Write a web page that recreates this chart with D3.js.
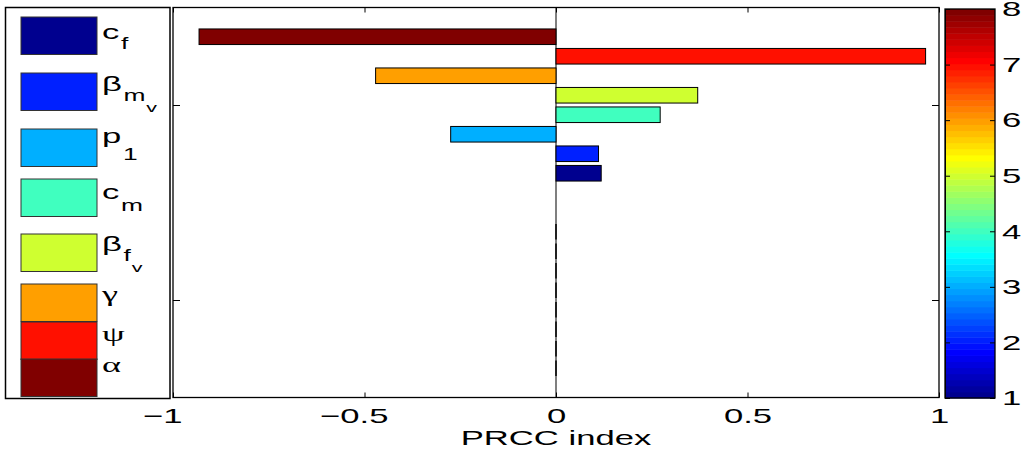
<!DOCTYPE html>
<html>
<head>
<meta charset="utf-8">
<script src="https://cdn.jsdelivr.net/npm/d3@7"></script>
<style>
  body { margin: 0; background: #fff; }
  text { font-family: "Liberation Sans", Arial, sans-serif; fill: #000; }
</style>
</head>
<body>
<svg id="chart" width="1024" height="455"></svg>
<script>
// parameters, legend order (top to bottom)
const symBase = ["c", "β", "p", "c", "β", "γ", "ψ", "α"];
const symSub = ["f", "m", "1", "m", "f", "", "", ""];
const symSubSub = ["", "v", "", "", "v", "", "", ""];
const rank = [1, 2, 3, 4, 5, 6, 7, 8]; // colour value on the colorbar
const prcc = [0.118, 0.111, -0.275, 0.272, 0.37, -0.471, 0.965, -0.932];
const barPos = [11.5, 12.5, 13.5, 14.5, 15.5, 16.5, 17.5, 18.5];

// empty rows (zero bars) below the parameters
const zeroPos = [1.5, 2.5, 3.5, 4.5, 5.5, 6.5, 7.5, 8.5];
const zeroVals = [0, 0, 0, 0, 0, 0, 0, 0];

const xTicks = [-1, -0.5, 0, 0.5, 1];
const yTicks = [5, 15];
const cbTicks = [1, 2, 3, 4, 5, 6, 7, 8];

// the original figure is stretched sideways, so the text is too
const SX = 1.65;
const FONT = "Liberation Sans, Arial, sans-serif";

// jet(64) colormap, like matlab
const jr = d3.scaleLinear().domain([24, 40, 56, 72]).range([0, 1, 1, 0]).clamp(true);
const jg = d3.scaleLinear().domain([8, 24, 40, 56]).range([0, 1, 1, 0]).clamp(true);
const jb = d3.scaleLinear().domain([-8, 8, 24, 40]).range([0, 1, 1, 0]).clamp(true);
function jet(i) {
  return d3.rgb(jr(i) * 255, jg(i) * 255, jb(i) * 255).toString();
}
function rankColor(v) {
  return jet(Math.round(1 + (v - 1) * 63 / 7));
}

const svg = d3.select("#chart");

// main axes
const x = d3.scaleLinear().domain([-1, 1]).range([173, 939]);
const y = d3.scaleLinear().domain([0, 20]).range([397.5, 7.5]);
const bh = y(0) - y(0.8);

const plot = svg.append("g");

// baseline at zero
plot.append("line")
  .attr("x1", x(0)).attr("x2", x(0))
  .attr("y1", y(20)).attr("y2", y(0))
  .attr("stroke", "#555")
  .attr("stroke-width", 1.5);

plot.selectAll("rect.bar")
  .data(prcc)
  .enter()
  .append("rect")
  .attr("class", "bar")
  .attr("x", (d) => x(Math.min(0, d)))
  .attr("width", (d) => Math.abs(x(d) - x(0)))
  .attr("y", (d, i) => y(barPos[i]) - bh / 2)
  .attr("height", bh)
  .attr("fill", (d, i) => rankColor(rank[i]))
  .attr("stroke", "#000")
  .attr("stroke-width", 1);

// zero bars show as black strokes on the baseline
plot.selectAll("line.zero")
  .data(zeroVals)
  .enter()
  .append("line")
  .attr("class", "zero")
  .attr("x1", (d) => x(d)).attr("x2", (d) => x(d))
  .attr("y1", (d, i) => y(zeroPos[i]) - bh / 2)
  .attr("y2", (d, i) => y(zeroPos[i]) + bh / 2)
  .attr("stroke", "#000")
  .attr("stroke-width", 1.5);

// axes, ticks pointing in
const xb = svg.append("g")
  .attr("transform", "translate(0," + y(0) + ")")
  .call(d3.axisBottom(x).tickValues(xTicks).tickSize(-5).tickPadding(11)
    .tickFormat(d3.format("")));
xb.selectAll("text")
  .attr("font-size", "21px")
  .attr("font-family", FONT)
  .attr("dx", (d) => (d < 0 ? -6.5 : 0))
  .attr("transform", "scale(" + SX + ",1)");

svg.append("g")
  .attr("transform", "translate(0," + y(20) + ")")
  .call(d3.axisTop(x).tickValues(xTicks).tickSize(-5).tickFormat(""));

svg.append("g")
  .attr("transform", "translate(" + x(-1) + ",0)")
  .call(d3.axisLeft(y).tickValues(yTicks).tickSize(-7).tickFormat(""));

svg.append("g")
  .attr("transform", "translate(" + x(1) + ",0)")
  .call(d3.axisRight(y).tickValues(yTicks).tickSize(-7).tickFormat(""));

svg.selectAll(".domain").remove();

svg.append("rect")
  .attr("x", x(-1)).attr("y", y(20))
  .attr("width", x(1) - x(-1)).attr("height", y(0) - y(20))
  .attr("fill", "none")
  .attr("stroke", "#000")
  .attr("stroke-width", 1.3);

svg.append("text")
  .attr("transform", "translate(" + x(0) + ",445) scale(" + SX + ",1)")
  .attr("text-anchor", "middle")
  .attr("font-size", "21px")
  .text("PRCC index");

// colorbar
const cb = d3.scaleLinear().domain([1, 8]).range([398, 9]);
const cbX = 945, cbW = 50;
const steps = d3.range(1, 65);
svg.append("g")
  .selectAll("rect")
  .data(steps)
  .enter()
  .append("rect")
  .attr("x", cbX)
  .attr("width", cbW)
  .attr("y", (i) => cb(1 + (7 * i) / 64))
  .attr("height", (i) => cb(1 + (7 * (i - 1)) / 64) - cb(1 + (7 * i) / 64) + 0.5)
  .attr("fill", (i) => jet(i));

svg.append("g")
  .attr("transform", "translate(" + cbX + ",0)")
  .call(d3.axisLeft(cb).tickValues(cbTicks).tickSize(-5).tickFormat(""));

const cbAxis = svg.append("g")
  .attr("transform", "translate(" + (cbX + cbW) + ",0)")
  .call(d3.axisRight(cb).tickValues(cbTicks).tickSize(-5).tickPadding(4.3)
    .tickFormat(d3.format("d")));
cbAxis.selectAll("text")
  .attr("font-size", "21px")
  .attr("font-family", FONT)
  .attr("transform", "scale(" + SX + ",1)");
cbAxis.select(".domain").remove();
svg.selectAll(".tick line").attr("stroke", "#000");

svg.append("rect")
  .attr("x", cbX).attr("y", cb(8))
  .attr("width", cbW).attr("height", cb(1) - cb(8))
  .attr("fill", "none")
  .attr("stroke", "#000")
  .attr("stroke-width", 1.3);

// legend
const legTop = [17, 73, 129, 179, 234, 284, 322, 359];
const legBase = [22, 18, 14, 20, 17, 17, 19, 13];
const legSubDy = [10, 10, 17, 12, 10, 0, 0, 0];

const leg = svg.append("g");
leg.append("rect")
  .attr("x", 5.5).attr("y", 7.5)
  .attr("width", 164.5).attr("height", 391)
  .attr("fill", "#fff")
  .attr("stroke", "#000")
  .attr("stroke-width", 1.5);

rank.forEach((r, i) => {
  leg.append("rect")
    .attr("x", 21).attr("y", legTop[i])
    .attr("width", 76).attr("height", 37.5)
    .attr("fill", rankColor(r))
    .attr("stroke", "#333")
    .attr("stroke-width", 1);

  // plain greek symbols look like the serif Symbol font in the original
  const plainGreek = !symSub[i];
  const t = leg.append("text")
    .attr("transform", "translate(102," + (legTop[i] + legBase[i]) + ") scale(" + SX + ",1)")
    .attr("font-size", plainGreek ? "22px" : "21px")
    .style("font-family", plainGreek ? "Liberation Serif, serif" : null);
  t.append("tspan").text(symBase[i]);
  if (symSub[i]) {
    t.append("tspan")
      .attr("dx", 1)
      .attr("dy", legSubDy[i])
      .attr("font-size", "16px")
      .text(symSub[i]);
  }
  if (symSubSub[i]) {
    t.append("tspan")
      .attr("dx", 0.5)
      .attr("dy", 11)
      .attr("font-size", "13px")
      .text(symSubSub[i]);
  }
});
</script>
</body>
</html>
